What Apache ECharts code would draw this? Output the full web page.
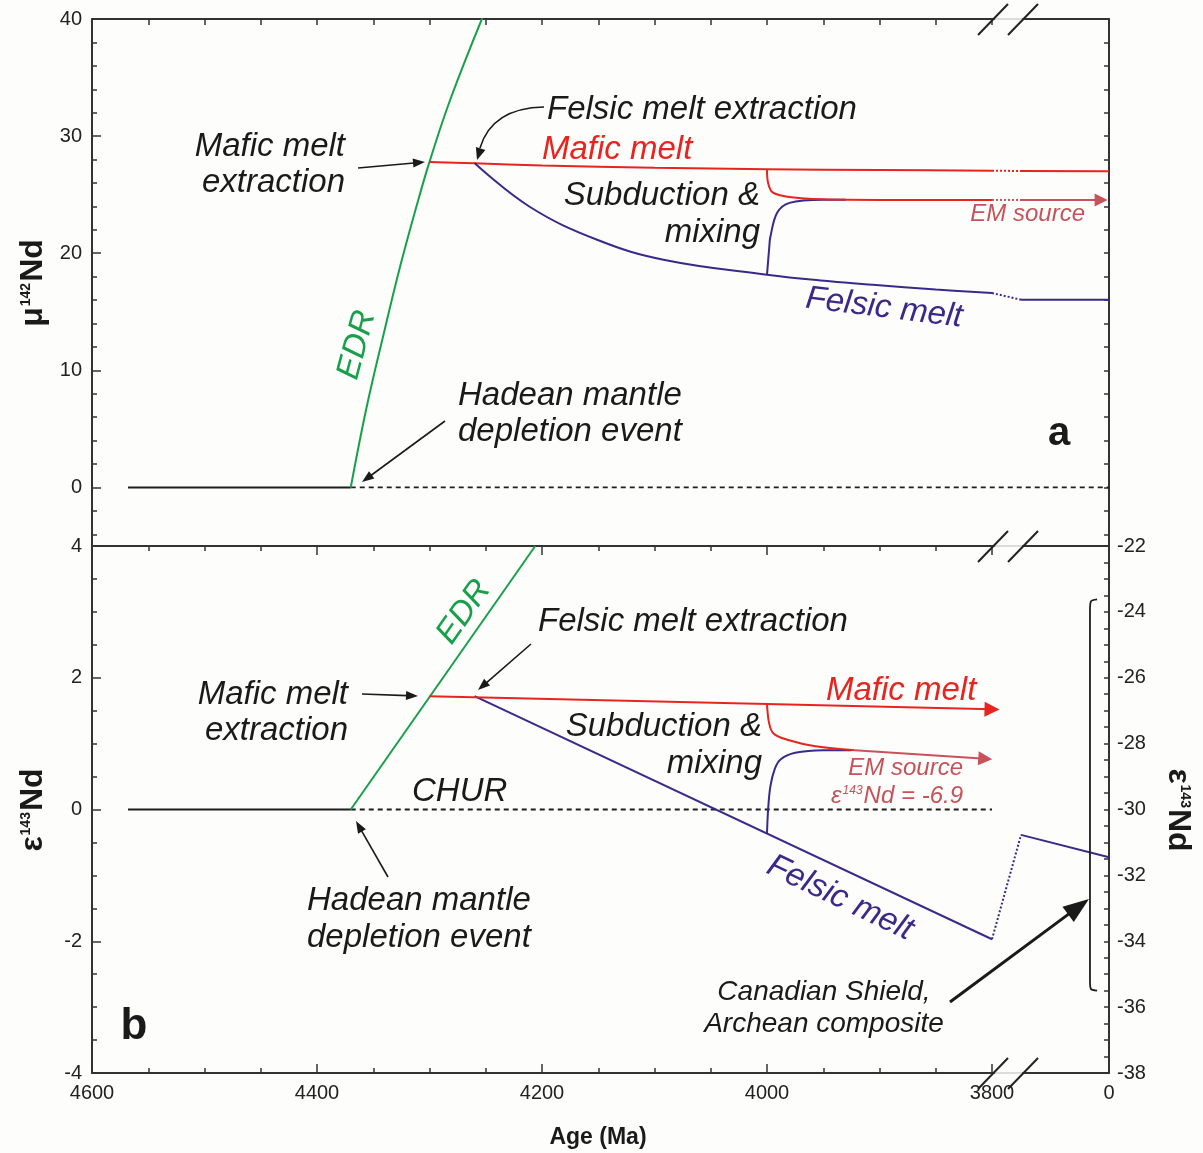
<!DOCTYPE html>
<html><head><meta charset="utf-8">
<script src="https://cdn.jsdelivr.net/npm/echarts@6/dist/echarts.min.js"></script>
<style>html,body{margin:0;padding:0;background:#fff}#c{width:1203px;height:1153px}</style>
</head><body><div id="c"></div><script>
const FONT = "'Liberation Sans', Arial, Helvetica, sans-serif";

// ---------- tick labels ----------
const xTickAges = [4600, 4400, 4200, 4000, 3800, 0];
const xMajorTickAges = [4600, 4400, 4200, 4000, 3800];
const xMinorTickAges = [4550, 4500, 4450, 4350, 4300, 4250, 4150, 4100, 4050, 3950, 3900, 3850];
const topYLabels = [0, 10, 20, 30, 40];
const topYMinor = [-4, -2, 2, 4, 6, 8, 12, 14, 16, 18, 22, 24, 26, 28, 32, 34, 36, 38];
const topRightTicks = [-4,-2,0,2,4,6,8,10,12,14,16,18,20,22,24,26,28,30,32,34,36,38];
const botYLabels = [-4, -2, 0, 2, 4];
const botYMinor = [-3.5, -3, -2.5, -1.5, -1, -0.5, 0.5, 1, 1.5, 2.5, 3, 3.5];
const rightYLabels = [-38, -36, -34, -32, -30, -28, -26, -24, -22];
const rightYTicks = [-38,-37.5,-37,-36.5,-36,-35.5,-35,-34.5,-34,-33.5,-33,-32.5,-32,-31.5,-31,-30.5,-30,-29.5,-29,-28.5,-28,-27.5,-27,-26.5,-26,-25.5,-25,-24.5,-24,-23.5,-23,-22.5,-22];

// ---------- panel a : mu142Nd (age Ma, value) ----------
const mantleA = [[4568, 0], [4370, 0]];
const churA = [[4370, 0], [0, 0]];
const edrA = [[4370, 0], [4356, 6.8], [4341, 13.0], [4326, 18.9], [4311, 24.2], [4300, 27.8], [4282, 33.0], [4253, 40.1]];
const maficA = [[4300, 27.8], [4260, 27.68], [4200, 27.5], [4100, 27.3], [4000, 27.18], [3900, 27.1], [3800, 27.05]];
const maficABreak = [[3800, 27.05], [3700, 27.02]];
const maficAToday = [[3700, 27.02], [0, 27.0]];
const felsicA = [[4260, 27.7], [4211, 23.97], [4151, 21.15], [4092, 19.45], [4000, 18.17], [3944, 17.6], [3906, 17.3], [3850, 16.9], [3800, 16.6]];
const felsicABreak = [[3800, 16.6], [3700, 16.03]];
const felsicAToday = [[3700, 16.03], [0, 16.03]];
const emA = [[4000, 27.18], [3999, 26.0], [3995, 25.2], [3980, 24.8], [3950, 24.6], [3900, 24.55], [3800, 24.55]];
const emABreak = [[3800, 24.55], [3700, 24.55]];
const emAToday = [[3700, 24.55], [330, 24.55]];
const mixA = [[4000, 18.17], [3998, 20.5], [3997, 21.4], [3991, 23.45], [3980, 24.3], [3950, 24.56], [3930, 24.56]];

// ---------- panel b : eps143Nd ----------
const mantleB = [[4568, 0], [4370, 0]];
const churB = [[4370, 0], [3800, 0]];
const edrB = [[4370, 0], [4206, 4.0]];
const maficB = [[4300, 1.72], [4000, 1.6], [3800, 1.52]];
const felsicB = [[4260, 1.72], [3800, -1.97]];
const felsicBBreakR = [[3800, -33.94], [3700, -30.77]];   // right axis
const felsicBTodayR = [[3700, -30.77], [0, -31.45]];      // right axis
const emB = [[4000, 1.6], [3998, 1.3], [3994, 1.15], [3982, 1.06], [3957, 0.96], [3922, 0.9]];
const emBArrow = [[3922, 0.9], [3806, 0.77]];
const mixB = [[4000, -0.36], [3999, 0.0], [3997, 0.35], [3993, 0.62], [3988, 0.76], [3975, 0.86], [3950, 0.9], [3925, 0.9]];
const canadianShieldR = [[500, -23.62], [760, -23.68], [800, -23.95], [800, -35.2], [760, -35.45], [500, -35.5]]; // right axis

// ---------- broken age scale ----------
function toP(age) {
  if (age >= 3800) return 4600 - age;
  if (age >= 3700) return 800 + (3800 - age) * 0.258;
  return 825.8 + (3700 - age) * (78.2 / 3700);
}
const PMAX = toP(0);
const P = arr => arr.map(d => [toP(d[0]), d[1]]);

const RED = '#e8241f', BLUE = '#392a8a', GREEN = '#17a04a', EM = '#c8525a', BLK = '#1e1e1e', AX = '#333';

function line(data, xi, yi, color, o = {}) {
  return { type: 'line', xAxisIndex: xi, yAxisIndex: yi, data: P(data), symbol: 'none', showSymbol: false,
    silent: true, animation: false, smooth: o.smooth || false, z: 3, clip: true,
    lineStyle: { color, width: o.width || 2, type: o.type || 'solid' } };
}
function arrowSeries(data, xi, yi, color, size) {
  return { type: 'lines', coordinateSystem: 'cartesian2d', xAxisIndex: xi, yAxisIndex: yi, polyline: false,
    symbol: ['none', 'triangle'], symbolSize: size, silent: true, animation: false, z: 4,
    lineStyle: { color, width: 2, opacity: 1 }, itemStyle: { color },
    data: [{ coords: P(data) }] };
}

const lbl = { color: '#222', fontSize: 20, fontFamily: FONT };
const noLine = { show: false, onZero: false };
function xAx(grid, pos, o) {
  return Object.assign({ type: 'value', gridIndex: grid, position: pos, min: 0, max: PMAX,
    splitLine: { show: false }, axisLine: noLine, axisTick: { show: false }, axisLabel: { show: false } }, o);
}
function yAx(grid, pos, min, max, o) {
  return Object.assign({ type: 'value', gridIndex: grid, position: pos, min, max,
    splitLine: { show: false }, axisLine: noLine, axisTick: { show: false }, axisLabel: { show: false } }, o);
}
const axLine = { show: true, onZero: false, lineStyle: { color: AX, width: 2 } };
const tick = (vals, len) => ({ show: true, inside: true, length: len, customValues: vals, lineStyle: { color: AX, width: 1.5 } });

const xLabelMap = {};
xTickAges.forEach(a => { xLabelMap[Math.round(toP(a))] = String(a); });

const xAxes = [
  xAx(0, 'bottom', { axisLine: axLine }),
  xAx(0, 'top', { axisLine: axLine, axisTick: tick(xMajorTickAges.concat(xMinorTickAges).map(toP), 6) }),
  xAx(1, 'bottom', { axisLine: axLine, axisTick: tick(xMajorTickAges.map(toP), 9),
    axisLabel: { show: true, customValues: xTickAges.map(toP), margin: 10, ...lbl,
      formatter: v => xLabelMap[Math.round(v)] || '' } }),
  xAx(1, 'bottom', { axisTick: tick(xMinorTickAges.map(toP), 5) }),
  xAx(1, 'top', { axisLine: axLine, axisTick: tick(xMajorTickAges.map(toP), 9) }),
  xAx(1, 'top', { axisTick: tick(xMinorTickAges.map(toP), 5) })
];
const yAxes = [
  yAx(0, 'left', -5, 40, { axisLine: axLine, axisTick: tick(topYLabels, 9),
    axisLabel: { show: true, customValues: topYLabels, margin: 10, ...lbl } }),
  yAx(0, 'left', -5, 40, { axisTick: tick(topYMinor, 5) }),
  yAx(0, 'right', -5, 40, { axisLine: axLine, axisTick: tick(topRightTicks, 5) }),
  yAx(1, 'left', -4, 4, { axisLine: axLine, axisTick: tick(botYLabels, 9),
    axisLabel: { show: true, customValues: botYLabels, margin: 10, ...lbl } }),
  yAx(1, 'left', -4, 4, { axisTick: tick(botYMinor, 5) }),
  yAx(1, 'right', -38, -22, { axisLine: axLine, axisTick: tick(rightYTicks, 5),
    axisLabel: { show: true, customValues: rightYLabels, margin: 8, ...lbl } })
];

const series = [
  // panel a
  line(mantleA, 0, 0, BLK),
  line(churA, 0, 0, BLK, { type: [5, 4], width: 1.8 }),
  line(edrA, 0, 0, GREEN, { smooth: 0.4 }),
  line(maficA, 0, 0, RED, { smooth: 0.3 }),
  line(maficABreak, 0, 0, RED, { type: [2, 2] }),
  line(maficAToday, 0, 0, RED),
  line(felsicA, 0, 0, BLUE, { smooth: 0.4 }),
  line(felsicABreak, 0, 0, BLUE, { type: [2, 2] }),
  line(felsicAToday, 0, 0, BLUE),
  line(mixA, 0, 0, BLUE, { smooth: 0.35 }),
  line(emA, 0, 0, RED, { smooth: 0.35 }),
  line(emABreak, 0, 0, EM, { type: [2, 2] }),
  arrowSeries(emAToday, 0, 0, EM, 13),
  // panel b
  line(mantleB, 2, 3, BLK),
  line(churB, 2, 3, BLK, { type: [5, 4], width: 1.8 }),
  line(edrB, 2, 3, GREEN),
  arrowSeries(maficB.slice(0, 2), 2, 3, RED, 0),
  arrowSeries(maficB.slice(1), 2, 3, RED, 15),
  line(felsicB, 2, 3, BLUE),
  line(felsicBBreakR, 2, 5, BLUE, { type: [2, 2] }),
  line(felsicBTodayR, 2, 5, BLUE),
  line(mixB, 2, 3, BLUE, { smooth: 0.35 }),
  line(emB, 2, 3, RED, { smooth: 0.35 }),
  arrowSeries(emBArrow, 2, 3, EM, 14),
  line(canadianShieldR, 2, 5, BLK, { width: 1.8, smooth: 0.3 })
];

// ---------- annotations ----------
const AF = `italic 33px ${FONT}`;
function T(x, y, text, o = {}) {
  const st = { text, fill: o.color || '#1a1a1a', font: o.font || AF,
    textAlign: o.align || 'left', align: o.align || 'left', textVerticalAlign: 'middle', verticalAlign: 'middle' };
  if (o.lh) st.lineHeight = o.lh;
  if (o.rich) st.rich = o.rich;
  return { type: 'text', x, y, rotation: (o.rot || 0) * Math.PI / 180, z: 100, silent: true, style: st };
}
function A(x1, y1, x2, y2, o = {}) {
  const L = o.L || 12, W = o.W || 9, w = o.w || 1.6, c = o.color || '#1a1a1a';
  const ang = Math.atan2(y2 - y1, x2 - x1), cs = Math.cos(ang), sn = Math.sin(ang);
  const bx = x2 - L * cs, by = y2 - L * sn, px = -sn, py = cs;
  return [
    { type: 'line', z: 100, silent: true, shape: { x1, y1, x2: bx + cs, y2: by + sn }, style: { stroke: c, lineWidth: w } },
    { type: 'polygon', z: 100, silent: true, shape: { points: [[x2, y2], [bx + px * W / 2, by + py * W / 2], [bx - px * W / 2, by - py * W / 2]] }, style: { fill: c } }
  ];
}
function head(tx, ty, fx, fy, L, W, c) {
  const ang = Math.atan2(ty - fy, tx - fx), cs = Math.cos(ang), sn = Math.sin(ang);
  const bx = tx - L * cs, by = ty - L * sn, px = -sn, py = cs;
  return { type: 'polygon', z: 100, silent: true, shape: { points: [[tx, ty], [bx + px * W / 2, by + py * W / 2], [bx - px * W / 2, by - py * W / 2]] }, style: { fill: c } };
}
const supRich = (big, small, pad, color, style) => ({
  b: { font: `${style} ${big}px ${FONT}`, fill: color },
  s: { font: `${style} ${small}px ${FONT}`, fill: color, padding: [0, 1, pad, 1] }
});

const g = [];
// panel a texts
g.push(T(345, 165, 'Mafic melt\nextraction', { align: 'right', lh: 36 }));
g.push(...A(358, 168, 425, 162));
g.push(T(547, 110, 'Felsic melt extraction'));
g.push({ type: 'bezierCurve', z: 100, silent: true, shape: { x1: 544, y1: 107, cpx1: 492, cpy1: 108, x2: 480, y2: 148 }, style: { stroke: '#1a1a1a', lineWidth: 1.6, fill: 'none' } });
g.push(head(477, 160, 484, 138, 12, 10, '#1a1a1a'));
g.push(T(542, 150, 'Mafic melt', { color: RED }));
g.push(T(760, 214, 'Subduction &\nmixing', { align: 'right', lh: 37 }));
g.push(T(1085, 214, 'EM source', { color: EM, font: `italic 24px ${FONT}`, align: 'right' }));
g.push(T(884, 308, 'Felsic melt', { color: BLUE, rot: -7, align: 'center' }));
g.push(T(357, 345, 'EDR', { color: GREEN, rot: 75, align: 'center' }));
g.push(T(458, 414, 'Hadean mantle\ndepletion event', { lh: 36 }));
g.push(...A(445, 421, 362, 482));
g.push(T(1059, 434, 'a', { font: `bold 40px ${FONT}`, align: 'center' }));
// panel b texts
g.push(T(464, 612, 'EDR', { color: GREEN, rot: 55, align: 'center' }));
g.push(T(538, 622, 'Felsic melt extraction'));
g.push(...A(531, 644, 478, 690));
g.push(T(348, 713, 'Mafic melt\nextraction', { align: 'right', lh: 36 }));
g.push(...A(362, 694, 418, 696));
g.push(T(826, 691, 'Mafic melt', { color: RED }));
g.push(T(762, 745, 'Subduction &\nmixing', { align: 'right', lh: 37 }));
g.push(T(963, 768, 'EM source', { color: EM, font: `italic 24px ${FONT}`, align: 'right' }));
g.push(T(963, 796, '{b|ε}{s|143}{b|Nd = -6.9}', { color: EM, align: 'right', rich: supRich(24, 12, 10, EM, 'italic') }));
g.push(T(412, 792, 'CHUR'));
g.push(T(307, 919, 'Hadean mantle\ndepletion event', { lh: 37 }));
g.push(...A(388, 877, 356, 821));
g.push(T(840, 898, 'Felsic melt', { color: BLUE, rot: -25.5, align: 'center' }));
g.push(T(824, 1008, 'Canadian Shield,\nArchean composite', { align: 'center', lh: 32, font: `italic 28px ${FONT}` }));
g.push(...A(950, 1002, 1089, 899, { w: 3, L: 26, W: 19 }));
g.push(T(134, 1027, 'b', { font: `bold 44px ${FONT}`, align: 'center' }));
// axis titles
g.push(T(33, 283, '{b|μ}{s|142}{b|Nd}', { rot: 90, align: 'center', rich: supRich(32, 14, 13, '#1a1a1a', 'bold') }));
g.push(T(33, 810, '{b|ε}{s|143}{b|Nd}', { rot: 90, align: 'center', rich: supRich(32, 14, 13, '#1a1a1a', 'bold') }));
g.push(T(1178, 810, '{b|ε}{s|143}{b|Nd}', { rot: -90, align: 'center', rich: supRich(32, 14, 13, '#1a1a1a', 'bold') }));
g.push(T(598, 1138, 'Age (Ma)', { font: `bold 23px ${FONT}`, align: 'center' }));
// axis break marks
[19, 546, 1073].forEach(y => {
  g.push({ type: 'rect', z: 99, silent: true, shape: { x: 995, y: y - 2.5, width: 27, height: 5 }, style: { fill: '#fdfdfc' } });
  g.push({ type: 'line', z: 100, silent: true, shape: { x1: 994, y1: y, x2: 1023, y2: y }, style: { stroke: '#bbb', lineWidth: 1 } });
  [993, 1023].forEach(x => g.push({ type: 'line', z: 101, silent: true, shape: { x1: x - 15, y1: y + 16, x2: x + 15, y2: y - 15 }, style: { stroke: '#222', lineWidth: 2 } }));
});

const chart = echarts.init(document.getElementById('c'), null, { renderer: 'canvas' });
chart.setOption({
  backgroundColor: '#fdfdfc',
  animation: false,
  textStyle: { fontFamily: FONT },
  grid: [
    { left: 92, top: 19, width: 1017, height: 527 },
    { left: 92, top: 546, width: 1017, height: 527 }
  ],
  xAxis: xAxes,
  yAxis: yAxes,
  series,
  graphic: { elements: g }
});
</script></body></html>
